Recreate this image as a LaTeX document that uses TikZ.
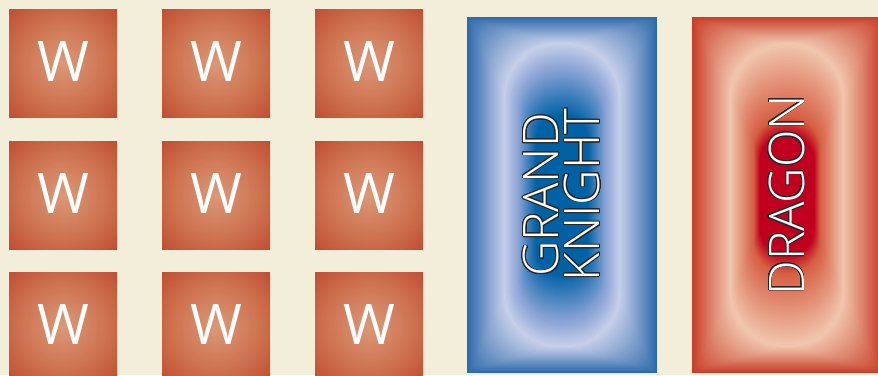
\documentclass[tikz,border=0pt]{standalone}
\usepackage{fontspec}
\setsansfont{Open Sans}
\newfontfamily\lightsans{Open Sans}[UprightFont=* Light]
\usepackage{contour}
\contourlength{0.8pt}
\contournumber{24}
\usetikzlibrary{positioning}

\definecolor{parchment}{RGB}{243, 238, 217}
\definecolor{wlight}{RGB}{220, 152, 118}
\definecolor{wmid}{RGB}{206, 114, 80}
\definecolor{wdark}{RGB}{186, 60, 35}
\definecolor{bedge}{RGB}{44, 106, 172}
\definecolor{bring}{RGB}{200, 208, 234}
\definecolor{bmid}{RGB}{140, 165, 215}
\definecolor{bcore}{RGB}{0, 98, 166}
\definecolor{redge}{RGB}{201, 62, 40}
\definecolor{rring}{RGB}{241, 198, 174}
\definecolor{rmid}{RGB}{214, 92, 64}
\definecolor{rcore}{RGB}{192, 0, 30}

\pgfdeclareradialshading{wtile}{\pgfpoint{0bp}{0bp}}{color(0bp)=(wlight); color(20bp)=(wmid); color(43bp)=(wdark); color(50bp)=(wdark)}

% one band of nested rounded boxes: centre, from (hw,hh,r), to (hw,hh,r), colours
\newcommand{\tokenband}[9]{%
  \foreach \i in {0,...,30} {
    \pgfmathsetmacro\t{\i/30}
    \pgfmathsetmacro\hw{#2+(#5-#2)*\t}
    \pgfmathsetmacro\hh{#3+(#6-#3)*\t}
    \pgfmathsetmacro\rr{#4+(#7-#4)*\t}
    \pgfmathsetmacro\pc{100*\t}
    \fill[#9!\pc!#8, shift={(#1)}, rounded corners=\rr pt] (-\hw,-\hh) rectangle (\hw,\hh);
  }%
}

\begin{document}
\begin{tikzpicture}[
        x=1pt, y=-1pt,
        tile/.style={rectangle, minimum size=108pt, inner sep=0pt, shading=wtile, text=white,
            font=\sffamily\fontsize{56}{56}\selectfont},
        tokenlabel/.style={rotate=90, align=center, inner sep=0pt, text=white,
            font=\lightsans\fontsize{49}{41}\selectfont}
    ]
        \useasboundingbox (0,0) rectangle (878,375);
        \clip (0,0) rectangle (878,375);
        \fill[parchment] (0,0) rectangle (878,375);

        % W tiles
        \foreach \col/\x in {1/63, 2/216, 3/369} {
            \foreach \row/\y in {1/63, 2/195, 3/326} {
                \node[tile] (w-\row-\col) at (\x,\y) {\raisebox{3pt}{W}};
            }
        }

        % Grand Knight
        \coordinate (knightc) at (562,195);
        \tokenband{knightc}{95}{178}{0}{58}{152}{55}{bedge}{bring}
        \tokenband{knightc}{58}{152}{55}{44}{128}{42}{bring}{bmid}
        \tokenband{knightc}{44}{128}{42}{26}{80}{25}{bmid}{bcore}
        \node[tokenlabel] (knight) at (knightc) {\contour{black!85}{GRAND}\\\contour{black!85}{KNIGHT}};

        % Dragon
        \coordinate (dragonc) at (787,195);
        \tokenband{dragonc}{95}{178}{0}{57}{152}{55}{redge}{rring}
        \tokenband{dragonc}{57}{152}{55}{33}{78}{32}{rring}{rmid}
        \tokenband{dragonc}{33}{78}{32}{27}{60}{26}{rmid}{rcore}
        \node[tokenlabel] (dragon) at (dragonc) {\contour{black!85}{DRAGON}};
    \end{tikzpicture}
\end{document}
